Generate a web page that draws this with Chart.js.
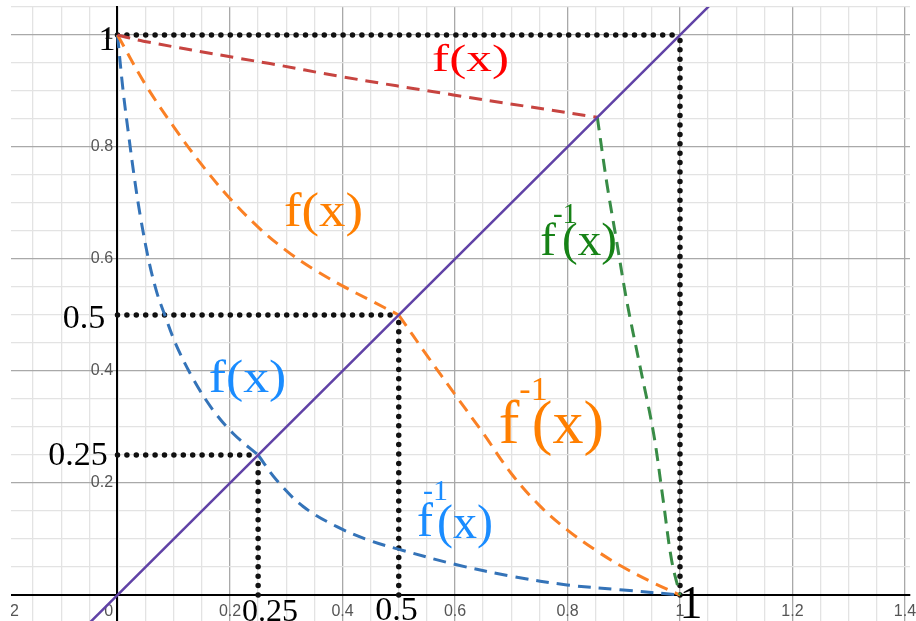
<!DOCTYPE html>
<html>
<head>
<meta charset="utf-8">
<script src="https://cdn.jsdelivr.net/npm/chart.js@4.4.1/dist/chart.umd.min.js"></script>
<style>
html,body{margin:0;padding:0;background:#ffffff;}
#wrap{width:916px;height:621px;position:relative;}
</style>
</head>
<body>
<div id="wrap"><canvas id="c"></canvas></div>
<script>
// ---- axis ticks ----
const xMajorTicks = [-0.2, 0, 0.2, 0.4, 0.6, 0.8, 1, 1.2, 1.4];
const xTickLabels = ['-0.2', '0', '0.2', '0.4', '0.6', '0.8', '1', '1.2', '1.4'];
const yMajorTicks = [0.2, 0.4, 0.6, 0.8, 1];
const yTickLabels = ['0.2', '0.4', '0.6', '0.8', '1'];
const minorStep = 0.05;
const xRange = [-0.2, 1.4089];
const yRange = [-0.0464, 1.05];

// ---- series ----
const diagonalX = [-0.1, 1.1];
const diagonalY = [-0.1, 1.1];

const redFX = [0, 0.046, 0.218, 0.271, 0.396, 0.597, 0.853];
const redFY = [1, 0.989, 0.958, 0.949, 0.926, 0.893, 0.853];
const greenInvX = [0.853, 0.870, 0.887, 0.905, 0.929, 0.953, 0.970, 0.985, 1];
const greenInvY = [0.853, 0.735, 0.634, 0.527, 0.408, 0.289, 0.170, 0.0625, 0];

const orangeFX = [0, 0.05, 0.10, 0.15, 0.20, 0.25, 0.30, 0.35, 0.40, 0.45, 0.50];
const orangeFY = [1, 0.911, 0.836, 0.768, 0.708, 0.657, 0.615, 0.581, 0.552, 0.526, 0.5];
const orangeInvX = [0.5, 0.55, 0.60, 0.65, 0.70, 0.75, 0.80, 0.85, 0.90, 0.95, 1];
const orangeInvY = [0.5, 0.428, 0.358, 0.289, 0.217, 0.160, 0.116, 0.080, 0.049, 0.023, 0];

const blueFX = [0, 0.01, 0.02, 0.03, 0.04, 0.055, 0.07, 0.084, 0.105, 0.135, 0.17, 0.206, 0.25];
const blueFY = [1, 0.90, 0.82, 0.745, 0.68, 0.60, 0.54, 0.50, 0.445, 0.385, 0.33, 0.288, 0.25];
const blueInvX = [0.25, 0.283, 0.330, 0.390, 0.449, 0.499, 0.603, 0.704, 0.799, 0.899, 1];
const blueInvY = [0.25, 0.205, 0.158, 0.122, 0.097, 0.082, 0.054, 0.033, 0.018, 0.009, 0];

const guideLevels = [1, 0.5, 0.25];

// ---- text annotations (placed in data units) ----
const serif = '"Liberation Serif", "Times New Roman", serif';
const annotations = [
  {text: '1',    x: -0.0187, y: 0.9732, size: 34, color: '#000000'},
  {text: '0.5',  x: -0.0596, y: 0.4768, size: 34, color: '#000000'},
  {text: '0.25', x: -0.0702, y: 0.2321, size: 34, color: '#000000'},
  {text: '0.25', x: 0.2711,  y: -0.0464, size: 32, color: '#000000'},
  {text: '0.5',  x: 0.496,   y: -0.0446, size: 34, color: '#000000'},
  {text: '1',    x: 1.0196,  y: -0.0411, size: 46, color: '#000000'},
  {text: 'f(x)', x: 0.6276,  y: 0.9357, size: 38, color: '#ff0000', sx: 1.35},
  {text: 'f(x)', x: 0.3662,  y: 0.6589, size: 48, color: '#ff7f00', sx: 1.1},
  {text: 'f(x)', x: 0.2311,  y: 0.3634, size: 47, color: '#1a8cff', sx: 1.1},
  {text: 'f',    x: 0.7653,  y: 0.6071, size: 47, color: '#168216'},
  {text: '-1',   x: 0.7956,  y: 0.6643, size: 29, color: '#168216'},
  {text: '(x)',  x: 0.8391,  y: 0.6071, size: 47, color: '#168216'},
  {text: 'f',    x: 0.696,   y: 0.2714, size: 62, color: '#ff7f00'},
  {text: '-1',   x: 0.7396,  y: 0.3482, size: 34, color: '#ff7f00'},
  {text: '(x)',  x: 0.8009,  y: 0.2714, size: 62, color: '#ff7f00'},
  {text: 'f',    x: 0.5467,  y: 0.1054, size: 48, color: '#1a8cff'},
  {text: '-1',   x: 0.5653,  y: 0.1696, size: 30, color: '#1a8cff'},
  {text: '(x)',  x: 0.6178,  y: 0.1018, size: 48, color: '#1a8cff'}
];

// ---- helpers ----
const pts = (xs, ys) => xs.map((v, i) => ({x: v, y: ys[i]}));
const near = (a, b) => Math.abs(a - b) < 1e-6;
function labelFor(v, ticks, labels) {
  const i = ticks.findIndex(t => near(t, v));
  return i < 0 ? '' : labels[i];
}
function buildTicks(scale, lo, hi) {
  const ticks = [];
  for (let k = Math.ceil(lo / minorStep - 1e-9); k * minorStep <= hi + 1e-9; k++) {
    ticks.push({value: Math.round(k * minorStep * 1e6) / 1e6});
  }
  scale.ticks = ticks;
}
function isMajor(v) {
  const r = v / 0.2;
  return Math.abs(r - Math.round(r)) < 1e-6;
}
function noPad(s) { s.paddingLeft = 0; s.paddingRight = 0; s.paddingTop = 0; s.paddingBottom = 0; }

function dashed(data, color) {
  return {data, showLine: true, borderColor: color, borderWidth: 3, borderDash: [13, 8],
          pointRadius: 0, tension: 0.35, fill: false};
}
function dotted(data) {
  return {data, showLine: true, borderColor: '#111111', borderWidth: 5.5, borderDash: [0, 9.4],
          borderCapStyle: 'round', pointRadius: 0, tension: 0, fill: false};
}

const datasets = [
  {data: pts(diagonalX, diagonalY), showLine: true, borderColor: '#6042a6', borderWidth: 2.5,
   pointRadius: 0, tension: 0, fill: false},
  dashed(pts(redFX, redFY), '#c74440'),
  dashed(pts(greenInvX, greenInvY), '#388c46'),
  dashed(pts(orangeFX, orangeFY), '#fa8025'),
  dashed(pts(orangeInvX, orangeInvY), '#fa8025'),
  dashed(pts(blueFX, blueFY), '#3473b8'),
  dashed(pts(blueInvX, blueInvY), '#3473b8')
];
guideLevels.forEach(L => {
  datasets.push(dotted([{x: 0, y: L}, {x: L, y: L}]));
  datasets.push(dotted([{x: L, y: 0}, {x: L, y: L}]));
});

const framePlugin = {
  id: 'frame',
  beforeDraw(chart) {
    const ctx = chart.ctx;
    ctx.save();
    ctx.beginPath();
    ctx.rect(11, 0, chart.width - 11, chart.height);
    ctx.clip();
  },
  afterDraw(chart) {
    const ctx = chart.ctx;
    annotations.forEach(a => {
      const px = chart.scales.x.getPixelForValue(a.x);
      const py = chart.scales.y.getPixelForValue(a.y);
      ctx.save();
      ctx.font = a.size + 'px ' + serif;
      ctx.fillStyle = a.color;
      ctx.textAlign = 'center';
      ctx.textBaseline = 'alphabetic';
      ctx.translate(px, py);
      ctx.scale(a.sx || 1, 1);
      ctx.fillText(a.text, 0, 0);
      ctx.restore();
    });
    ctx.restore();
  }
};

const gridColor = c => isMajor(c.tick.value) ? '#a9a9a9' : '#e3e3e3';
const tickFont = {family: '"Liberation Sans", Arial, sans-serif', size: 16};

new Chart(document.getElementById('c'), {
  type: 'scatter',
  data: {datasets},
  options: {
    responsive: true,
    maintainAspectRatio: false,
    animation: false,
    events: [],
    layout: {padding: {left: 5, right: 6, top: 7, bottom: 0}},
    plugins: {legend: {display: false}, tooltip: {enabled: false}},
    scales: {
      x: {
        type: 'linear',
        position: {y: 0},
        min: xRange[0], max: xRange[1],
        afterBuildTicks: s => buildTicks(s, xRange[0], xRange[1]),
        afterFit: noPad,
        grid: {drawTicks: false, lineWidth: 1.3, color: gridColor},
        border: {display: true, color: '#000000', width: 2},
        ticks: {
          autoSkip: false, maxRotation: 0, minRotation: 0, padding: 7,
          color: '#555555', font: tickFont,
          callback: v => {
            const t = labelFor(v, xMajorTicks, xTickLabels);
            return t === '0' ? '0    ' : t;
          }
        }
      },
      y: {
        type: 'linear',
        position: {x: 0},
        min: yRange[0], max: yRange[1],
        afterBuildTicks: s => buildTicks(s, yRange[0], yRange[1]),
        afterFit: noPad,
        grid: {drawTicks: false, lineWidth: 1.3, color: gridColor},
        border: {display: true, color: '#000000', width: 2},
        ticks: {
          autoSkip: false, padding: 6,
          color: '#555555', font: tickFont,
          callback: v => {
            const t = labelFor(v, yMajorTicks, yTickLabels);
            return t ? t + ' ' : '';
          }
        }
      }
    }
  },
  plugins: [framePlugin]
});
</script>
</body>
</html>
